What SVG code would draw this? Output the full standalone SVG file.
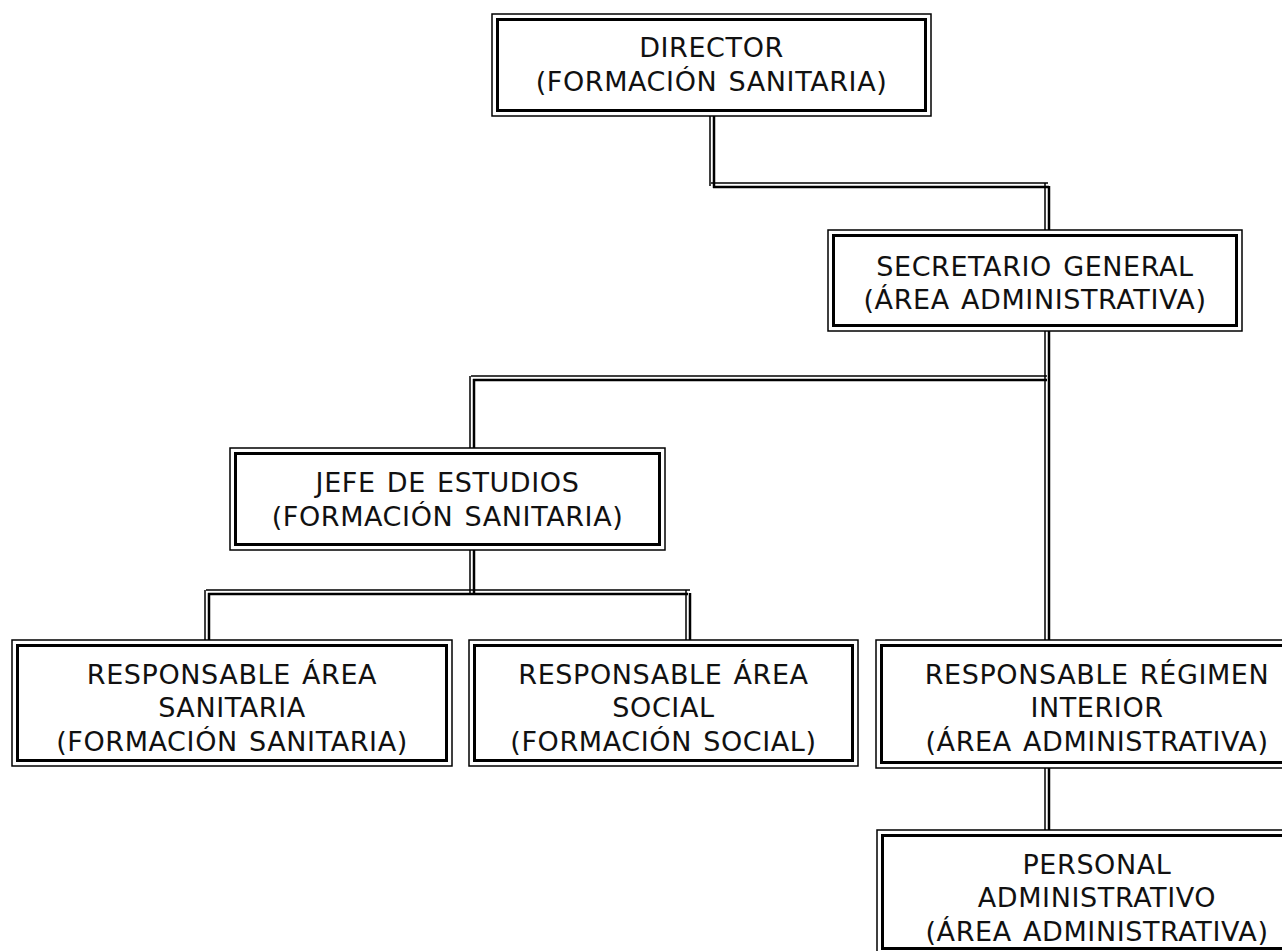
<svg xmlns="http://www.w3.org/2000/svg" width="1282" height="951" viewBox="0 0 1282 951">
<style>
.o{fill:#fff;stroke:#000;stroke-width:1.5}
.i{fill:none;stroke:#000;stroke-width:3}
.t{font-family:"DejaVu Sans","Verdana",sans-serif;font-size:27px;letter-spacing:0.6px;word-spacing:2px;fill:#111;text-anchor:middle}
.a{fill:none;stroke:#000;stroke-width:1.5}
.b{fill:none;stroke:#000;stroke-width:2.5}
</style>
<rect width="1282" height="951" fill="#fff"/>
<g id="connectors">
<path class="a" d="M710,116V186M711,183H1048M1045,183V230"/>
<path class="b" d="M714,116V188M713,187H1049M1049,186V230"/>
<path class="a" d="M1045,331V640M471,376H1047M470,376V448"/>
<path class="b" d="M1049,331V640M473,380H1047M474,379V448"/>
<path class="a" d="M470,550V593M206,590H690M205,590V640M686,590V640"/>
<path class="b" d="M474,550V593M208,594H688M209,593V640M690,593V640"/>
<path class="a" d="M1045,766V830"/>
<path class="b" d="M1049,766V830"/>
</g>
<g id="director">
<rect class="o" x="492" y="14" width="439" height="102"/>
<rect class="i" x="497.5" y="19.5" width="428" height="91"/>
<text class="t" x="711.5" y="57">DIRECTOR</text>
<text class="t" x="711.5" y="91">(FORMACIÓN SANITARIA)</text>
</g>
<g id="secretario">
<rect class="o" x="828" y="230" width="414" height="101"/>
<rect class="i" x="833.5" y="235.5" width="403" height="90"/>
<text class="t" x="1035" y="276">SECRETARIO GENERAL</text>
<text class="t" x="1035" y="309">(ÁREA ADMINISTRATIVA)</text>
</g>
<g id="jefe">
<rect class="o" x="230" y="448" width="435" height="102"/>
<rect class="i" x="235.5" y="453.5" width="424" height="91"/>
<text class="t" x="447.5" y="492">JEFE DE ESTUDIOS</text>
<text class="t" x="447.5" y="526">(FORMACIÓN SANITARIA)</text>
</g>
<g id="resp-sanitaria">
<rect class="o" x="12" y="640" width="440" height="126"/>
<rect class="i" x="17.5" y="645.5" width="429" height="115"/>
<text class="t" x="232" y="684">RESPONSABLE ÁREA</text>
<text class="t" x="232" y="717">SANITARIA</text>
<text class="t" x="232" y="751">(FORMACIÓN SANITARIA)</text>
</g>
<g id="resp-social">
<rect class="o" x="469" y="640" width="389" height="126"/>
<rect class="i" x="474.5" y="645.5" width="378" height="115"/>
<text class="t" x="663.5" y="684">RESPONSABLE ÁREA</text>
<text class="t" x="663.5" y="717">SOCIAL</text>
<text class="t" x="663.5" y="751">(FORMACIÓN SOCIAL)</text>
</g>
<g id="resp-regimen">
<rect class="o" x="876" y="640" width="420" height="128"/>
<rect class="i" x="881.5" y="645.5" width="409" height="117"/>
<text class="t" x="1097" y="684">RESPONSABLE RÉGIMEN</text>
<text class="t" x="1097" y="717">INTERIOR</text>
<text class="t" x="1097" y="751">(ÁREA ADMINISTRATIVA)</text>
</g>
<g id="personal">
<rect class="o" x="877" y="830" width="420" height="125"/>
<rect class="i" x="882.5" y="835.5" width="409" height="113"/>
<text class="t" x="1097" y="874">PERSONAL</text>
<text class="t" x="1097" y="907">ADMINISTRATIVO</text>
<text class="t" x="1097" y="941">(ÁREA ADMINISTRATIVA)</text>
</g>
</svg>
